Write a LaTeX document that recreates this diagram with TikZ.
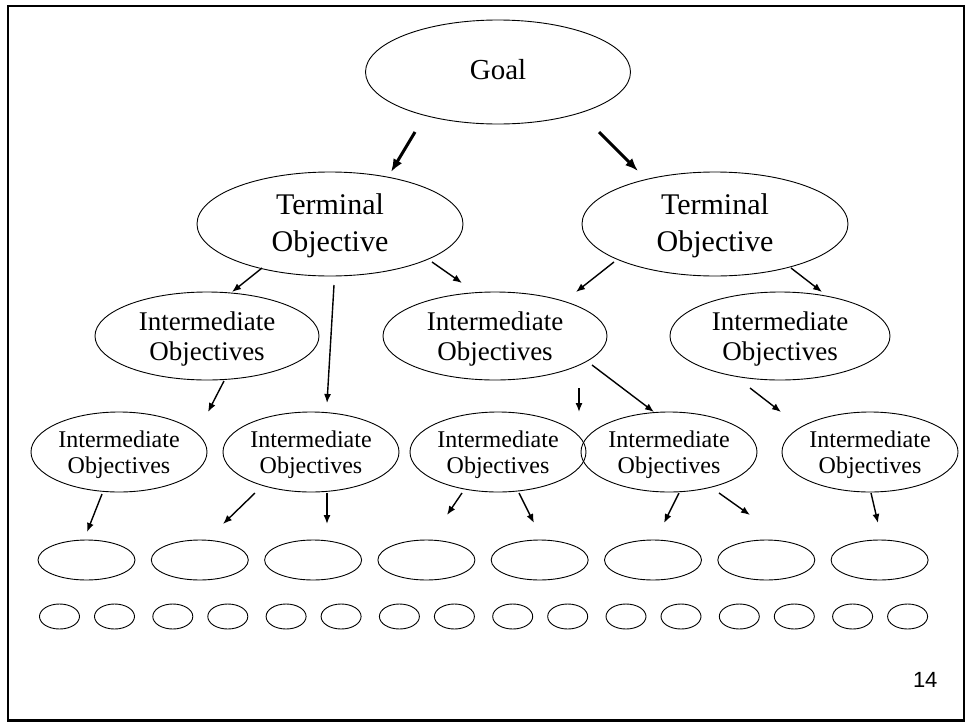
\documentclass[tikz,border=0pt]{standalone}
\usepackage{fontspec}
\setmainfont{Liberation Serif}
\setsansfont{Liberation Sans}
\usetikzlibrary{shapes.geometric, arrows.meta}

\begin{document}
\begin{tikzpicture}[
    x=1pt, y=-1pt,
    oval/.style={ellipse, draw, line width=0.9pt, inner sep=0pt, align=center},
    goalbox/.style={oval, minimum width=265pt, minimum height=104pt, text height=16pt, font=\fontsize{29}{32}\selectfont},
    termbox/.style={oval, minimum width=266pt, minimum height=104pt, text height=61pt, font=\fontsize{30}{37}\selectfont},
    midbox/.style={oval, minimum width=224pt, minimum height=88pt, text height=55pt, font=\fontsize{27}{30}\selectfont},
    lowbox/.style={oval, minimum width=176pt, minimum height=80pt, text height=47.5pt, font=\fontsize{24}{26}\selectfont},
    leaf/.style={ellipse, draw, line width=0.9pt, minimum width=97pt, minimum height=40pt, inner sep=0pt},
    bud/.style={ellipse, draw, line width=0.9pt, minimum width=40pt, minimum height=25pt, inner sep=0pt},
    arr/.style={-{Latex[length=9pt, width=7pt]}, line width=1.4pt},
    bigarr/.style={-{Latex[length=13pt, width=10pt]}, line width=3pt}
]

\useasboundingbox (0,0) rectangle (967,723);
\draw[line width=2.3pt] (7.7,5.7) rectangle (964,720.5);

\node[goalbox] (goal) at (498,72) {Goal};
\node[termbox] (termL) at (330,224) {Terminal\\Objective};
\node[termbox] (termR) at (715,224) {Terminal\\Objective};

\node[midbox] (intA) at (207,336) {Intermediate\\Objectives};
\node[midbox] (intB) at (495,336) {Intermediate\\Objectives};
\node[midbox, minimum width=220pt] (intC) at (780,336) {Intermediate\\Objectives};

\node[lowbox] (intD) at (119,452) {Intermediate\\Objectives};
\node[lowbox] (intE) at (311,452) {Intermediate\\Objectives};
\node[lowbox] (intF) at (498,452) {Intermediate\\Objectives};
\node[lowbox] (intG) at (669,452) {Intermediate\\Objectives};
\node[lowbox] (intH) at (870,452) {Intermediate\\Objectives};

\foreach \i in {1,...,8} {
  \pgfmathsetmacro{\cx}{86.5+113.3*(\i-1)}
  \node[leaf] (leaf\i) at (\cx,560) {};
  \node[bud] (bud\i a) at (\cx-27,616.5) {};
  \node[bud] (bud\i b) at (\cx+28,616.5) {};
}

\node[font=\sffamily\fontsize{22}{24}\selectfont, anchor=base east] (page) at (941,687) {14};

% goal -> terminal
\coordinate (g1) at (415,132); \coordinate (g2) at (391,172);
\coordinate (g3) at (599,132); \coordinate (g4) at (638,171);
\draw[bigarr] (g1) -- (g2);
\draw[bigarr] (g3) -- (g4);

% terminal -> intermediate
\coordinate (t1) at (262,268); \coordinate (t2) at (232,292);
\coordinate (t3) at (334,285); \coordinate (t4) at (327,403);
\coordinate (t5) at (432,262); \coordinate (t6) at (462,283);
\coordinate (t7) at (614,262); \coordinate (t8) at (576,292);
\coordinate (t9) at (791,268); \coordinate (t10) at (822,292);
\draw[arr] (t1) -- (t2);
\draw[arr] (t3) -- (t4);
\draw[arr] (t5) -- (t6);
\draw[arr] (t7) -- (t8);
\draw[arr] (t9) -- (t10);

% intermediate -> intermediate
\coordinate (m1) at (224,381); \coordinate (m2) at (208,412);
\coordinate (m3) at (579,388); \coordinate (m4) at (579,412);
\coordinate (m5) at (592,365); \coordinate (m6) at (654,412);
\coordinate (m7) at (750,388); \coordinate (m8) at (781,412);
\draw[arr] (m1) -- (m2);
\draw[arr] (m3) -- (m4);
\draw[arr] (m5) -- (m6);
\draw[arr] (m7) -- (m8);

% intermediate -> leaves
\coordinate (l1) at (102,494); \coordinate (l2) at (87,532);
\coordinate (l3) at (255,493); \coordinate (l4) at (223,524);
\coordinate (l5) at (327,493); \coordinate (l6) at (327,524);
\coordinate (l7) at (462,493); \coordinate (l8) at (447,515);
\coordinate (l9) at (519,493); \coordinate (l10) at (534,523);
\coordinate (l11) at (679,493); \coordinate (l12) at (664,523);
\coordinate (l13) at (719,493); \coordinate (l14) at (750,515);
\coordinate (l15) at (871,493); \coordinate (l16) at (878,523);
\draw[arr] (l1) -- (l2);
\draw[arr] (l3) -- (l4);
\draw[arr] (l5) -- (l6);
\draw[arr] (l7) -- (l8);
\draw[arr] (l9) -- (l10);
\draw[arr] (l11) -- (l12);
\draw[arr] (l13) -- (l14);
\draw[arr] (l15) -- (l16);

\end{tikzpicture}
\end{document}
